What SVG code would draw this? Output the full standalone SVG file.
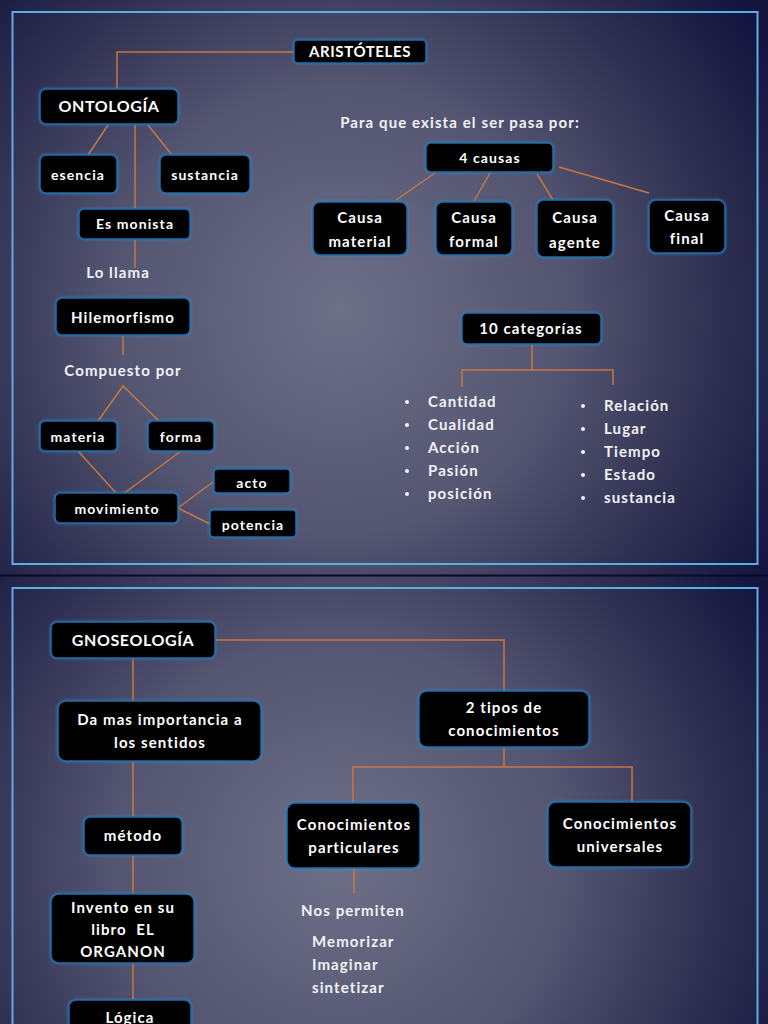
<svg xmlns="http://www.w3.org/2000/svg" width="768" height="1024" viewBox="0 0 768 1024">
<defs>
<radialGradient id="bg1" gradientUnits="userSpaceOnUse" cx="340" cy="310" r="500">
<stop offset="0" stop-color="#6e7088"/>
<stop offset="0.45" stop-color="#535571"/>
<stop offset="0.8" stop-color="#2a2b4d"/>
<stop offset="1" stop-color="#13153f"/>
</radialGradient>
<radialGradient id="bg2" gradientUnits="userSpaceOnUse" cx="340" cy="860" r="500">
<stop offset="0" stop-color="#6e7088"/>
<stop offset="0.45" stop-color="#535571"/>
<stop offset="0.8" stop-color="#2a2b4d"/>
<stop offset="1" stop-color="#13153f"/>
</radialGradient>
<filter id="glow" x="-20%" y="-30%" width="140%" height="160%">
<feGaussianBlur in="SourceAlpha" stdDeviation="1.5" result="b"/>
<feFlood flood-color="#2f8fd8" flood-opacity="0.7"/>
<feComposite in2="b" operator="in" result="g"/>
<feMerge><feMergeNode in="g"/><feMergeNode in="SourceGraphic"/></feMerge>
</filter>
<style>
.frame{fill:none;stroke:#5aaee2;stroke-width:2}
.node rect{fill:#030305;stroke:#1d6ea8;stroke-width:1.5;filter:url(#glow)}
.node text,.lbl{fill:#ffffff;font-family:Lato,"Noto Sans",sans-serif;font-weight:bold;text-anchor:middle;letter-spacing:1.1px}
.node text.caps{letter-spacing:0.6px}
.lbl{fill:#f2f2f4}
.lt{text-anchor:start}
.conn line,.conn polyline{stroke:#c7773f;stroke-width:1.5;fill:none}
.bul{fill:#f2f2f4}
</style>
</defs>
<rect x="0" y="0" width="768" height="576" fill="url(#bg1)"/>
<rect x="0" y="576" width="768" height="448" fill="url(#bg2)"/>
<line x1="0" y1="575.5" x2="768" y2="575.5" stroke="#0a0b28" stroke-width="2"/>
<rect class="frame" x="12.5" y="12" width="745" height="552"/>
<rect class="frame" x="12.5" y="588" width="745" height="460"/>

<g class="conn">
<polyline points="294,52 117,52 117,89"/>
<line x1="108" y1="125" x2="88" y2="155"/>
<line x1="148" y1="125" x2="172" y2="155"/>
<line x1="135" y1="125" x2="135" y2="209"/>
<line x1="135" y1="239" x2="135" y2="268"/>
<line x1="123" y1="335" x2="123" y2="355"/>
<polyline points="98,421 123,386 159,421"/>
<line x1="78" y1="451" x2="117" y2="494"/>
<line x1="181" y1="451" x2="123" y2="494"/>
<polyline points="213,482 178,508 210,524"/>
<line x1="435" y1="173" x2="396" y2="200"/>
<line x1="490" y1="173" x2="474" y2="201"/>
<line x1="537" y1="174" x2="553" y2="200"/>
<line x1="559" y1="167" x2="649" y2="193"/>
<line x1="532" y1="344" x2="532" y2="370"/>
<polyline points="462,387 462,370 613,370 613,385"/>
<polyline points="215,640 504,640 504,691"/>
<line x1="133" y1="658" x2="133" y2="701"/>
<line x1="133" y1="761" x2="133" y2="817"/>
<line x1="133" y1="855" x2="133" y2="894"/>
<line x1="133" y1="963" x2="133" y2="1002"/>
<line x1="504" y1="747" x2="504" y2="767"/>
<polyline points="353,803 353,767 632,767 632,802"/>
<line x1="354" y1="868" x2="354" y2="893"/>
</g>

<g id="aristoteles" class="node"><rect x="294" y="40" width="132" height="23" rx="4"/><text class="caps" x="360" y="57" font-size="15">ARISTÓTELES</text></g>
<g id="ontologia" class="node"><rect x="40" y="89" width="138" height="35" rx="6"/><text class="caps" x="109" y="112" font-size="16">ONTOLOGÍA</text></g>
<g id="esencia" class="node"><rect x="40" y="155" width="77" height="38" rx="6"/><text x="78" y="180" font-size="14">esencia</text></g>
<g id="sustancia" class="node"><rect x="160" y="155" width="90" height="38" rx="6"/><text x="205" y="180" font-size="14">sustancia</text></g>
<g id="es-monista" class="node"><rect x="79" y="209" width="111" height="30" rx="5"/><text x="135" y="229" font-size="14">Es monista</text></g>
<text class="lbl" x="118" y="278" font-size="15">Lo llama</text>
<g id="hilemorfismo" class="node"><rect x="56" y="298" width="134" height="37" rx="6"/><text x="123" y="323" font-size="15">Hilemorfismo</text></g>
<text class="lbl" x="123" y="376" font-size="15">Compuesto por</text>
<g id="materia" class="node"><rect x="40" y="421" width="77" height="30" rx="5"/><text x="78" y="442" font-size="14">materia</text></g>
<g id="forma" class="node"><rect x="148" y="421" width="66" height="30" rx="5"/><text x="181" y="442" font-size="14">forma</text></g>
<g id="movimiento" class="node"><rect x="55" y="493" width="123" height="30" rx="5"/><text x="117" y="514" font-size="14">movimiento</text></g>
<g id="acto" class="node"><rect x="214" y="469" width="76" height="24" rx="4"/><text x="252" y="488" font-size="14">acto</text></g>
<g id="potencia" class="node"><rect x="210" y="510" width="86" height="27" rx="4"/><text x="253" y="530" font-size="14">potencia</text></g>

<text class="lbl" x="460" y="128" font-size="15">Para que exista el ser pasa por:</text>
<g id="cuatro-causas" class="node"><rect x="426" y="143" width="127" height="29" rx="5"/><text x="490" y="163" font-size="14">4 causas</text></g>
<g id="causa-material" class="node"><rect x="313" y="202" width="94" height="53" rx="7"/><text x="360" y="223" font-size="15">Causa</text><text x="360" y="247" font-size="15">material</text></g>
<g id="causa-formal" class="node"><rect x="436" y="202" width="76" height="53" rx="7"/><text x="474" y="223" font-size="15">Causa</text><text x="474" y="247" font-size="15">formal</text></g>
<g id="causa-agente" class="node"><rect x="537" y="200" width="76" height="57" rx="7"/><text x="575" y="223" font-size="15">Causa</text><text x="575" y="248" font-size="15">agente</text></g>
<g id="causa-final" class="node"><rect x="649" y="200" width="76" height="53" rx="7"/><text x="687" y="221" font-size="15">Causa</text><text x="687" y="244" font-size="15">final</text></g>

<g id="categorias" class="node"><rect x="462" y="313" width="139" height="31" rx="5"/><text x="531" y="334" font-size="15">10 categorías</text></g>
<g id="lista-izq">
<circle class="bul" cx="407" cy="402" r="2"/><text class="lbl lt" x="428" y="407" font-size="15">Cantidad</text>
<circle class="bul" cx="407" cy="425" r="2"/><text class="lbl lt" x="428" y="430" font-size="15">Cualidad</text>
<circle class="bul" cx="407" cy="448" r="2"/><text class="lbl lt" x="428" y="453" font-size="15">Acción</text>
<circle class="bul" cx="407" cy="471" r="2"/><text class="lbl lt" x="428" y="476" font-size="15">Pasión</text>
<circle class="bul" cx="407" cy="494" r="2"/><text class="lbl lt" x="428" y="499" font-size="15">posición</text>
</g>
<g id="lista-der">
<circle class="bul" cx="583" cy="406" r="2"/><text class="lbl lt" x="604" y="411" font-size="15">Relación</text>
<circle class="bul" cx="583" cy="429" r="2"/><text class="lbl lt" x="604" y="434" font-size="15">Lugar</text>
<circle class="bul" cx="583" cy="452" r="2"/><text class="lbl lt" x="604" y="457" font-size="15">Tiempo</text>
<circle class="bul" cx="583" cy="475" r="2"/><text class="lbl lt" x="604" y="480" font-size="15">Estado</text>
<circle class="bul" cx="583" cy="498" r="2"/><text class="lbl lt" x="604" y="503" font-size="15">sustancia</text>
</g>

<g id="gnoseologia" class="node"><rect x="51" y="622" width="164" height="36" rx="6"/><text class="caps" x="133" y="646" font-size="16">GNOSEOLOGÍA</text></g>
<g id="da-mas" class="node"><rect x="58" y="701" width="203" height="60" rx="8"/><text x="160" y="725" font-size="15">Da mas importancia a</text><text x="160" y="748" font-size="15">los sentidos</text></g>
<g id="metodo" class="node"><rect x="84" y="817" width="98" height="38" rx="6"/><text x="133" y="841" font-size="15">método</text></g>
<g id="invento" class="node"><rect x="51" y="894" width="143" height="69" rx="8"/><text x="123" y="913" font-size="15">Invento en su</text><text x="123" y="935" font-size="15" xml:space="preserve">libro  EL</text><text x="123" y="957" font-size="15">ORGANON</text></g>
<g id="logica" class="node"><rect x="69" y="1000" width="122" height="40" rx="7"/><text x="130" y="1023" font-size="15">Lógica</text></g>
<g id="dos-tipos" class="node"><rect x="419" y="691" width="170" height="56" rx="8"/><text x="504" y="713" font-size="15">2 tipos de</text><text x="504" y="736" font-size="15">conocimientos</text></g>
<g id="particulares" class="node"><rect x="287" y="803" width="133" height="65" rx="8"/><text x="354" y="830" font-size="15">Conocimientos</text><text x="354" y="853" font-size="15">particulares</text></g>
<g id="universales" class="node"><rect x="548" y="802" width="143" height="65" rx="8"/><text x="620" y="829" font-size="15">Conocimientos</text><text x="620" y="852" font-size="15">universales</text></g>
<text class="lbl" x="353" y="916" font-size="15">Nos permiten</text>
<text class="lbl lt" x="312" y="947" font-size="15">Memorizar</text>
<text class="lbl lt" x="312" y="970" font-size="15">Imaginar</text>
<text class="lbl lt" x="312" y="993" font-size="15">sintetizar</text>
</svg>
